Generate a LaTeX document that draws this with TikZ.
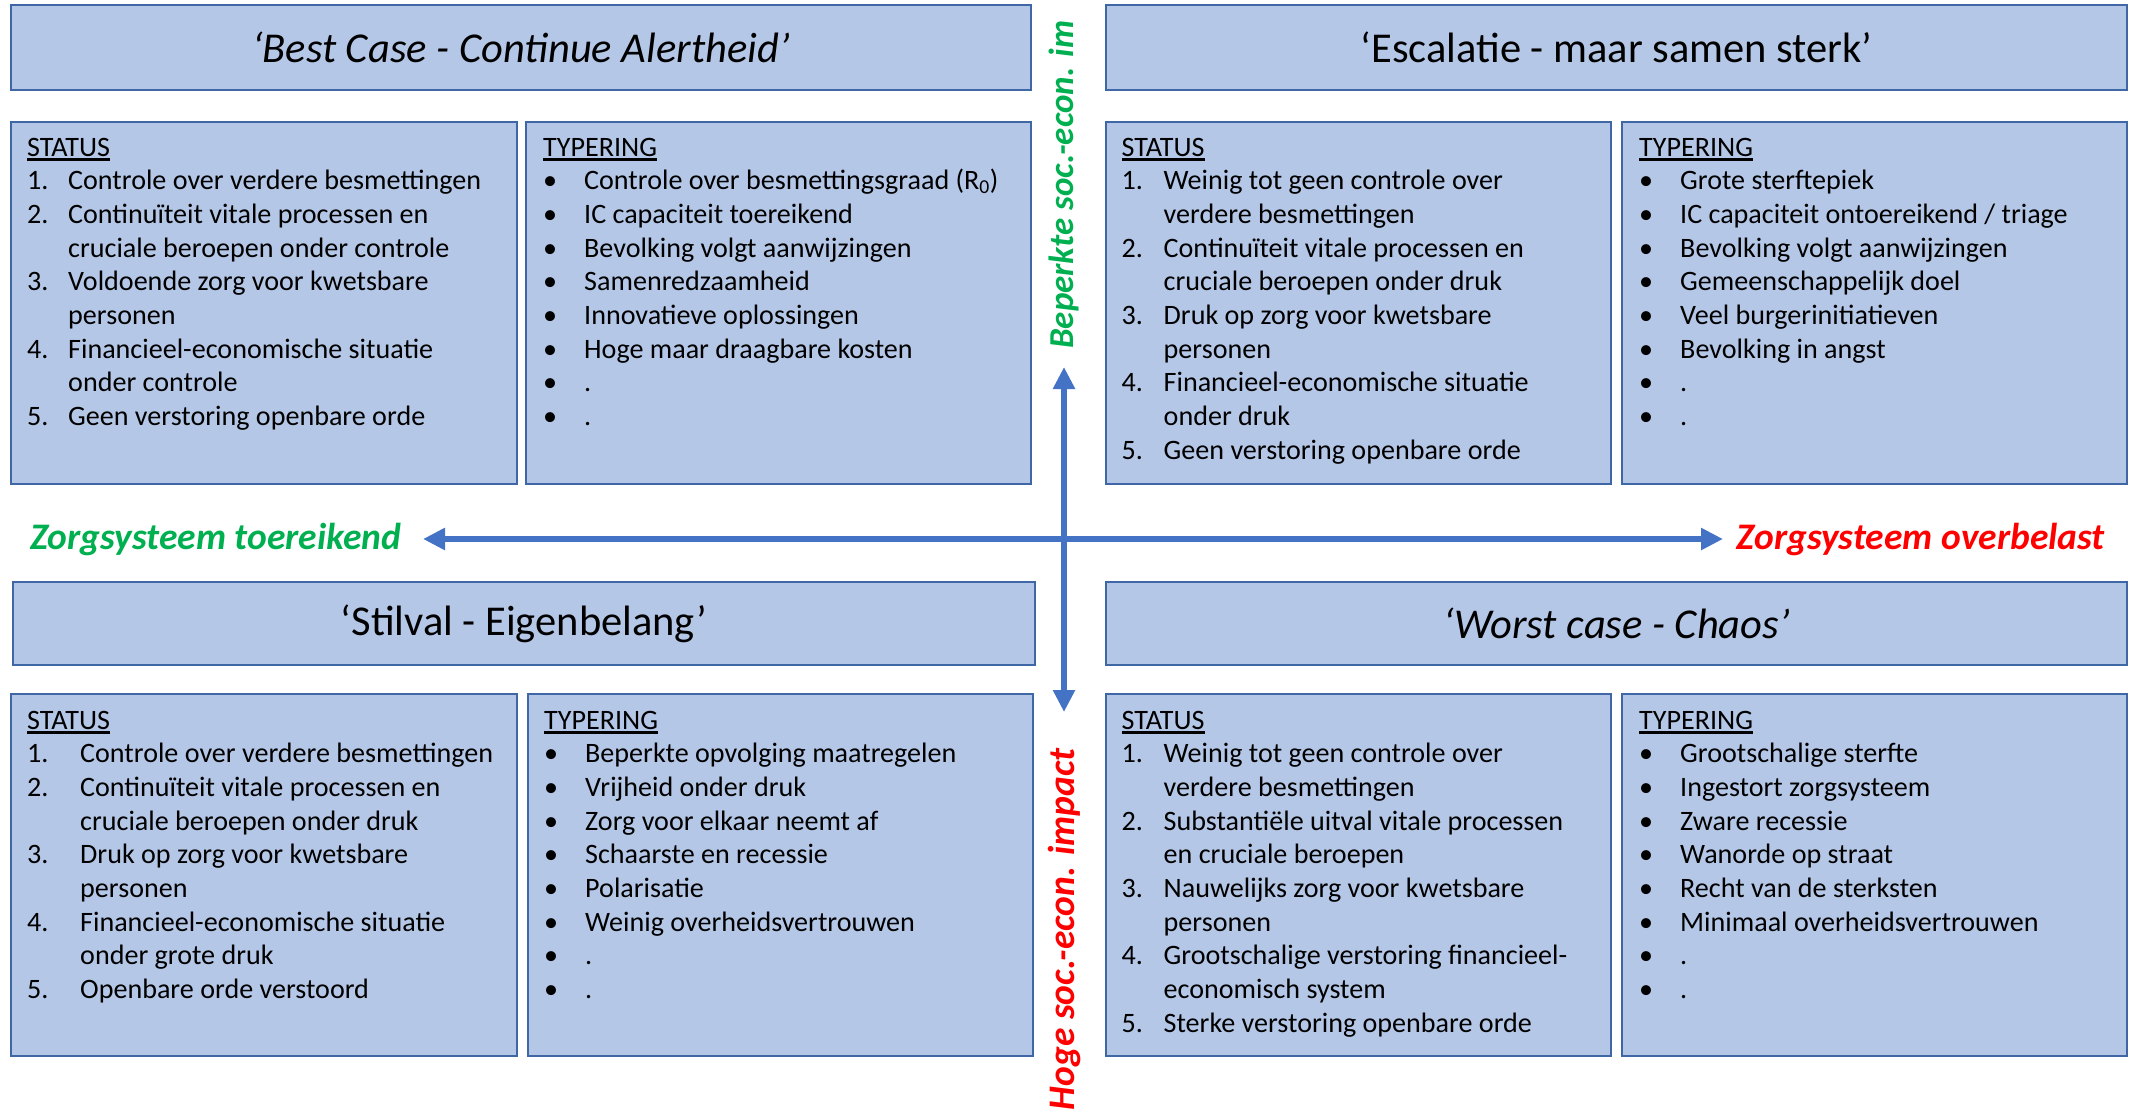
\documentclass[tikz,border=0pt]{standalone}
\usepackage{fontspec}
\setmainfont{Carlito}
\usetikzlibrary{arrows.meta}
\definecolor{boxfill}{HTML}{B4C7E7}
\definecolor{boxline}{HTML}{3F67A6}
\definecolor{axisblue}{HTML}{4472C4}
\definecolor{labgreen}{HTML}{00B050}
\definecolor{labred}{HTML}{FF0000}
\newcommand{\ulhead}[1]{\setbox0\hbox{#1}\rlap{\rule[-4.5pt]{\wd0}{2.4pt}}\box0}
\tikzset{
  panel/.style={draw=boxline, fill=boxfill, line width=2.2pt, inner sep=0pt, anchor=north west},
  titlebox/.style={panel, font=\fontsize{42.5}{48}\selectfont},
  body/.style={anchor=base west, inner sep=0pt, font=\fontsize{28.1}{33.7}\selectfont},
  axisarrow/.style={draw=axisblue, line width=6pt, {Triangle[width=21pt,length=22pt]}-{Triangle[width=21pt,length=22pt]}},
  axislabel/.style={inner sep=0pt, font=\fontsize{37.5}{44}\selectfont\bfseries\itshape},
}
\begin{document}
\begin{tikzpicture}[x=1pt,y=-1pt]
\useasboundingbox (0,0) rectangle (2134,1109);

% ---------- top row ----------
\node[titlebox, minimum width=1020.5pt, minimum height=84.5pt] (tl-title) at (9.5,4) {\itshape ‘Best Case - Continue Alertheid’};
\node[titlebox, minimum width=1021pt, minimum height=84.5pt] (tr-title) at (1105,4) {‘Escalatie - maar samen sterk’};

\node[panel, minimum width=506.5pt, minimum height=362pt] (tl-st) at (9.5,121) {};
\node[panel, minimum width=505pt, minimum height=362pt] (tl-ty) at (525,121) {};
\node[panel, minimum width=505pt, minimum height=362pt] (tr-st) at (1105,121) {};
\node[panel, minimum width=505pt, minimum height=362pt] (tr-ty) at (1621,121) {};

\node[body] (tl-st-txt) at (27,156) {\begin{tabular}[t]{@{}p{41pt}@{}l@{}}
\multicolumn{2}{@{}l}{\ulhead{STATUS}}\\
1. & Controle over verdere besmettingen\\
2. & Continuïteit vitale processen en\\
   & cruciale beroepen onder controle\\
3. & Voldoende zorg voor kwetsbare\\
   & personen\\
4. & Financieel-economische situatie\\
   & onder controle\\
5. & Geen verstoring openbare orde
\end{tabular}};

\node[body] (tl-ty-txt) at (543,156) {\begin{tabular}[t]{@{}p{41pt}@{}l@{}}
\multicolumn{2}{@{}l}{\ulhead{TYPERING}}\\
\textbullet & Controle over besmettingsgraad (R\textsubscript{0})\\
\textbullet & IC capaciteit toereikend\\
\textbullet & Bevolking volgt aanwijzingen\\
\textbullet & Samenredzaamheid\\
\textbullet & Innovatieve oplossingen\\
\textbullet & Hoge maar draagbare kosten\\
\textbullet & .\\
\textbullet & .
\end{tabular}};

\node[body] (tr-st-txt) at (1121.5,156) {\begin{tabular}[t]{@{}p{42pt}@{}l@{}}
\multicolumn{2}{@{}l}{\ulhead{STATUS}}\\
1. & Weinig tot geen controle over\\
   & verdere besmettingen\\
2. & Continuïteit vitale processen en\\
   & cruciale beroepen onder druk\\
3. & Druk op zorg voor kwetsbare\\
   & personen\\
4. & Financieel-economische situatie\\
   & onder druk\\
5. & Geen verstoring openbare orde
\end{tabular}};

\node[body] (tr-ty-txt) at (1639,156) {\begin{tabular}[t]{@{}p{41pt}@{}l@{}}
\multicolumn{2}{@{}l}{\ulhead{TYPERING}}\\
\textbullet & Grote sterftepiek\\
\textbullet & IC capaciteit ontoereikend / triage\\
\textbullet & Bevolking volgt aanwijzingen\\
\textbullet & Gemeenschappelijk doel\\
\textbullet & Veel burgerinitiatieven\\
\textbullet & Bevolking in angst\\
\textbullet & .\\
\textbullet & .
\end{tabular}};

% ---------- bottom row ----------
\node[titlebox, minimum width=1022pt, minimum height=83pt] (bl-title) at (12,581) {‘Stilval - Eigenbelang’};
\node[titlebox, minimum width=1021pt, minimum height=83pt] (br-title) at (1105,581) {\itshape ‘Worst case - Chaos’};

\node[panel, minimum width=506.5pt, minimum height=362pt] (bl-st) at (9.5,693) {};
\node[panel, minimum width=505pt, minimum height=362pt] (bl-ty) at (527,693) {};
\node[panel, minimum width=505pt, minimum height=362pt] (br-st) at (1105,693) {};
\node[panel, minimum width=505pt, minimum height=362pt] (br-ty) at (1621,693) {};

\node[body] (bl-st-txt) at (27,729) {\begin{tabular}[t]{@{}p{53pt}@{}l@{}}
\multicolumn{2}{@{}l}{\ulhead{STATUS}}\\
1. & Controle over verdere besmettingen\\
2. & Continuïteit vitale processen en\\
   & cruciale beroepen onder druk\\
3. & Druk op zorg voor kwetsbare\\
   & personen\\
4. & Financieel-economische situatie\\
   & onder grote druk\\
5. & Openbare orde verstoord
\end{tabular}};

\node[body] (bl-ty-txt) at (544,729) {\begin{tabular}[t]{@{}p{41pt}@{}l@{}}
\multicolumn{2}{@{}l}{\ulhead{TYPERING}}\\
\textbullet & Beperkte opvolging maatregelen\\
\textbullet & Vrijheid onder druk\\
\textbullet & Zorg voor elkaar neemt af\\
\textbullet & Schaarste en recessie\\
\textbullet & Polarisatie\\
\textbullet & Weinig overheidsvertrouwen\\
\textbullet & .\\
\textbullet & .
\end{tabular}};

\node[body] (br-st-txt) at (1121.5,729) {\begin{tabular}[t]{@{}p{42pt}@{}l@{}}
\multicolumn{2}{@{}l}{\ulhead{STATUS}}\\
1. & Weinig tot geen controle over\\
   & verdere besmettingen\\
2. & Substantiële uitval vitale processen\\
   & en cruciale beroepen\\
3. & Nauwelijks zorg voor kwetsbare\\
   & personen\\
4. & Grootschalige verstoring financieel-\\
   & economisch system\\
5. & Sterke verstoring openbare orde
\end{tabular}};

\node[body] (br-ty-txt) at (1639,729) {\begin{tabular}[t]{@{}p{41pt}@{}l@{}}
\multicolumn{2}{@{}l}{\ulhead{TYPERING}}\\
\textbullet & Grootschalige sterfte\\
\textbullet & Ingestort zorgsysteem\\
\textbullet & Zware recessie\\
\textbullet & Wanorde op straat\\
\textbullet & Recht van de sterksten\\
\textbullet & Minimaal overheidsvertrouwen\\
\textbullet & .\\
\textbullet & .
\end{tabular}};

% ---------- axes ----------
\coordinate (hl) at (423,539);
\coordinate (hr) at (1723,539);
\coordinate (vt) at (1064,367);
\coordinate (vb) at (1064,712);
\draw[axisarrow] (hl) -- (hr);
\draw[axisarrow] (vt) -- (vb);

\node[axislabel, text=labgreen, anchor=west] (lab-left) at (30,539) {Zorgsysteem toereikend};
\node[axislabel, text=labred, anchor=east] (lab-right) at (2105,539) {Zorgsysteem overbelast};
\node[axislabel, font=\fontsize{35}{42}\selectfont\bfseries\itshape, text=labgreen, anchor=west, rotate=90] (lab-top) at (1064,349) {Beperkte soc.-econ. im};
\node[axislabel, text=labred, anchor=east, rotate=90] (lab-bottom) at (1064,748) {Hoge soc.-econ. impact};
\end{tikzpicture}
\end{document}
